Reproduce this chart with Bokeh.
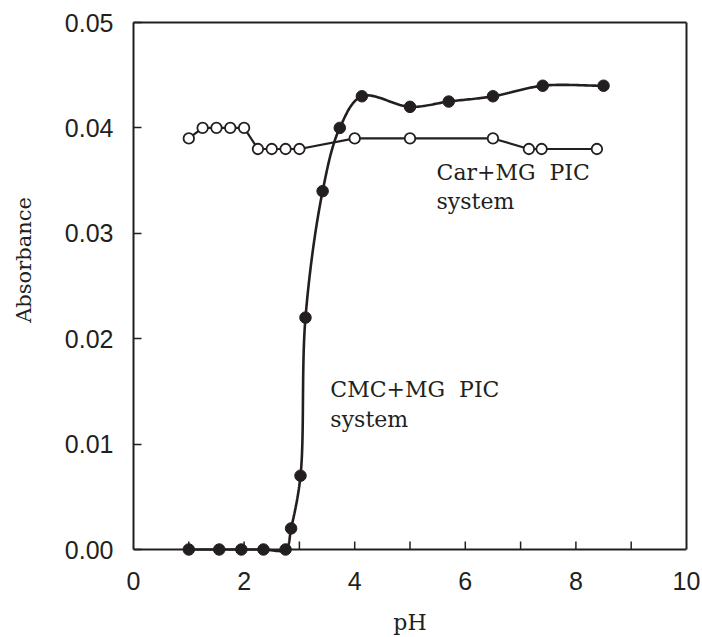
import numpy as np
from bokeh.plotting import figure
from bokeh.models import Range1d, FixedTicker, NumeralTickFormatter, Label, ColumnDataSource, LinearAxis, Span
from bokeh.embed import file_html
from bokeh.resources import INLINE

# ---- data ----
cmc_ph = [1.0, 1.55, 1.95, 2.35, 2.75, 2.85, 3.02, 3.11, 3.42, 3.73, 4.13, 5.0, 5.7, 6.5, 7.4, 8.5]
cmc_abs = [0.0, 0.0, 0.0, 0.0, 0.0, 0.002, 0.007, 0.022, 0.034, 0.040, 0.043, 0.042, 0.0425, 0.043, 0.044, 0.044]

car_ph = [1.0, 1.25, 1.5, 1.75, 2.0, 2.25, 2.5, 2.75, 3.0, 4.0, 5.0, 6.5, 7.15, 7.38, 8.38]
car_abs = [0.039, 0.040, 0.040, 0.040, 0.040, 0.038, 0.038, 0.038, 0.038, 0.039, 0.039, 0.039, 0.038, 0.038, 0.038]

x_major_ticks = [0, 2, 4, 6, 8, 10]
x_all_ticks = [1, 2, 3, 4, 5, 6, 7, 8, 9]
y_ticks = [0.0, 0.01, 0.02, 0.03, 0.04, 0.05]

X_MIN, X_MAX = 0, 10
Y_MIN, Y_MAX = 0, 0.05
FW, FH = 553, 527          # plotting box size in px (0..10 by 0..0.05)
PAD = 8                    # extra room below y=0 so markers on the axis are not clipped
Y_PER_PX = (Y_MAX - Y_MIN) / FH
Y_PAD = PAD * Y_PER_PX
TICK = 8                   # tick length, px
INK = "#231f20"


def smooth(xs, ys, n=24, alpha=0.5):
    """Centripetal Catmull-Rom through the data points (computed in screen units)."""
    sx = FW / (X_MAX - X_MIN)
    sy = FH / (Y_MAX - Y_MIN)
    P = np.column_stack([np.asarray(xs) * sx, np.asarray(ys) * sy])
    P = np.vstack([2 * P[0] - P[1], P, 2 * P[-1] - P[-2]])
    out = []
    for i in range(1, len(P) - 2):
        p0, p1, p2, p3 = P[i - 1], P[i], P[i + 1], P[i + 2]
        t0 = 0.0
        t1 = t0 + max(np.linalg.norm(p1 - p0) ** alpha, 1e-6)
        t2 = t1 + max(np.linalg.norm(p2 - p1) ** alpha, 1e-6)
        t3 = t2 + max(np.linalg.norm(p3 - p2) ** alpha, 1e-6)
        for t in np.linspace(t1, t2, n, endpoint=False):
            a1 = (t1 - t) / (t1 - t0) * p0 + (t - t0) / (t1 - t0) * p1
            a2 = (t2 - t) / (t2 - t1) * p1 + (t - t1) / (t2 - t1) * p2
            a3 = (t3 - t) / (t3 - t2) * p2 + (t - t2) / (t3 - t2) * p3
            b1 = (t2 - t) / (t2 - t0) * a1 + (t - t0) / (t2 - t0) * a2
            b2 = (t3 - t) / (t3 - t1) * a2 + (t - t1) / (t3 - t1) * a3
            c = (t2 - t) / (t2 - t1) * b1 + (t - t1) / (t2 - t1) * b2
            out.append(c)
    out.append(P[-2])
    out = np.array(out)
    return out[:, 0] / sx, out[:, 1] / sy


p = figure(
    frame_width=FW, frame_height=FH + PAD,
    x_range=Range1d(X_MIN, X_MAX), y_range=Range1d(Y_MIN - Y_PAD, Y_MAX),
    output_backend="svg", toolbar_location=None,
    min_border_left=133, min_border_right=14, min_border_top=22, min_border_bottom=79,
    background_fill_color="white", border_fill_color="white",
)
p.grid.visible = False
p.outline_line_color = None

# bottom axis: labels only (sits at the frame bottom, just below y=0)
xa = p.xaxis[0]
xa.ticker = FixedTicker(ticks=x_major_ticks, minor_ticks=[])
xa.axis_line_color = None
xa.major_tick_in = 0
xa.major_tick_out = 0
xa.minor_tick_in = 0
xa.minor_tick_out = 0
xa.major_label_text_font = "Liberation Sans"
xa.major_label_text_font_size = "25px"
xa.major_label_text_color = INK
xa.major_label_standoff = 14
xa.axis_label = "pH"
xa.axis_label_text_font = "DejaVu Serif"
xa.axis_label_text_font_style = "normal"
xa.axis_label_text_font_size = "22px"
xa.axis_label_text_color = INK
xa.axis_label_standoff = 17

# x axis line and inward ticks exactly at y = 0
p.add_layout(Span(location=0, dimension="width", line_color=INK, line_width=2))
p.segment(x0=x_all_ticks, y0=[0] * len(x_all_ticks),
          x1=x_all_ticks, y1=[TICK * Y_PER_PX] * len(x_all_ticks),
          line_color=INK, line_width=1.5)

# y axis
ya = p.yaxis[0]
ya.ticker = FixedTicker(ticks=y_ticks, minor_ticks=[])
ya.bounds = (Y_MIN, Y_MAX)
ya.formatter = NumeralTickFormatter(format="0.00")
ya.axis_line_color = INK
ya.axis_line_width = 2
ya.major_tick_in = TICK
ya.major_tick_out = 0
ya.major_tick_line_color = INK
ya.major_tick_line_width = 1.5
ya.minor_tick_in = 0
ya.minor_tick_out = 0
ya.major_label_text_font = "Liberation Sans"
ya.major_label_text_font_size = "25px"
ya.major_label_text_color = INK
ya.major_label_standoff = 20
# leading no-break spaces lift the title a little above the middle, as in the original
ya.axis_label = "\u00a0" * 9 + "Absorbance"
ya.axis_label_text_font = "DejaVu Serif"
ya.axis_label_text_font_style = "normal"
ya.axis_label_text_font_size = "21px"
ya.axis_label_text_color = INK
ya.axis_label_standoff = 26

# top and right box edges
for side in ("above", "right"):
    box = LinearAxis(ticker=FixedTicker(ticks=[], minor_ticks=[]),
                     axis_line_color=INK, axis_line_width=2,
                     major_tick_in=0, major_tick_out=0, minor_tick_in=0, minor_tick_out=0)
    if side == "right":
        box.bounds = (Y_MIN, Y_MAX)
    p.add_layout(box, side)

# Car+MG (open circles, straight segments)
car_src = ColumnDataSource(dict(x=car_ph, y=car_abs))
p.line("x", "y", source=car_src, line_color=INK, line_width=2.2)
p.scatter("x", "y", source=car_src, size=10.5, marker="circle",
          fill_color="white", line_color=INK, line_width=1.8)

# CMC+MG (filled circles, smooth curve)
sxs, sys_ = smooth(cmc_ph, cmc_abs)
p.line(sxs, sys_, line_color=INK, line_width=2.6)
p.scatter(cmc_ph, cmc_abs, size=11.5, marker="circle", fill_color=INK, line_color=INK)

# annotations
NB = "\u00a0"
for txt, x, y in [("Car+MG" + NB + NB + "PIC", 5.48, 0.0358), ("system", 5.48, 0.0330),
                  ("CMC+MG" + NB + NB + "PIC", 3.56, 0.0152), ("system", 3.56, 0.0123)]:
    p.add_layout(Label(x=x, y=y, text=txt, text_font="DejaVu Serif",
                       text_font_size="22px", text_color=INK,
                       text_baseline="alphabetic", text_align="left"))

open("out.html", "w").write(file_html(p, INLINE))
